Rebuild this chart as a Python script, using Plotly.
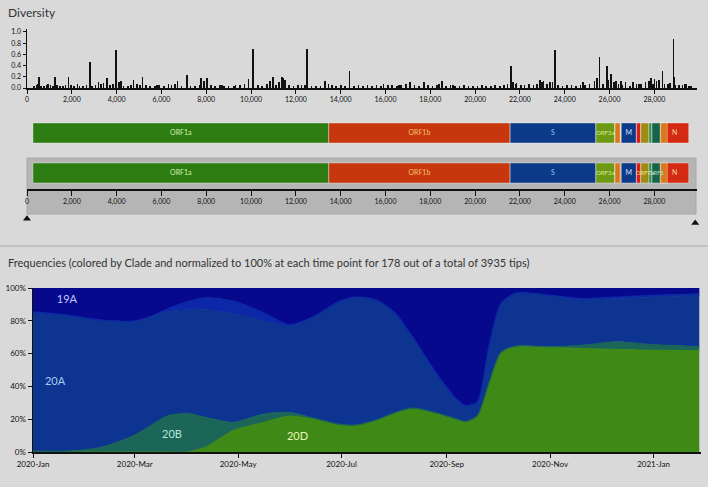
import plotly.graph_objects as go

W, H = 708, 487
def py(p):  # pixel y -> paper
    return 1 - p / H
def px(p):
    return p / W

# ---------------- data ----------------
GENOME_LEN = 29903
div_pos = [550, 952, 1250, 1845, 2250, 2810, 3185, 3560, 3973, 4200, 4750, 5160, 5800, 6310, 6720, 7130,
           7780, 8020, 8700, 9300, 9880, 10075, 10850, 10965, 11370, 11430, 12485, 13300, 14390,
           15910, 16600, 17100, 17720, 18400, 18530, 19000, 21590, 21800, 22900, 23000, 23350, 23560,
           24800, 25330, 25550, 25880, 26070, 26300, 26500, 26710, 27300, 27860, 28000, 28360, 28850,
           28900, 29420,
           300, 420, 480, 620, 750, 880, 1050, 1150, 1350, 1480, 1600, 1720, 1950, 2100, 2350, 2500,
           2650, 2900, 3050, 3300, 3420, 3700, 3850, 4100, 4300, 4500, 4650, 4900, 5050, 5300, 5500,
           5700, 5900, 6100, 6450, 6600, 6900, 7300, 7500, 7700, 7900, 8200, 8400, 8600, 8800, 9000,
           9250, 9500, 9700, 10300, 10500, 10700, 11100, 11250, 11500, 11700, 11900, 12100, 12250,
           12400, 12700, 12900, 13100, 13450, 13600, 13800, 14000, 14200, 14600, 14800, 15000, 15200,
           15400, 15600, 15800, 16100, 16300, 16500, 16700, 16900, 17300, 17500, 17900, 18100, 18300,
           18700, 18900, 19100, 19300, 19500, 19700, 19900, 20100, 20300, 20500, 20700, 20900, 21100,
           21300, 21450, 21700, 21850, 22050, 22200, 22400, 22600, 22750, 23050, 23200, 23450, 23700,
           23900, 24100, 24300, 24500, 24700, 24900, 25100, 25450, 25700, 25950, 26200, 26400, 26550,
           26900, 27050, 27200, 27400, 27600, 27750, 27950, 28100, 28200, 28450, 28600, 28700, 28950,
           29100, 29250, 29350, 29550, 29650]
div_val = [0.20, 0.08, 0.20, 0.20, 0.08, 0.46, 0.10, 0.17, 0.68, 0.12, 0.14, 0.20, 0.05, 0.08, 0.12, 0.24,
           0.17, 0.17, 0.05, 0.05, 0.16, 0.70, 0.12, 0.20, 0.20, 0.18, 0.70, 0.12, 0.30,
           0.08, 0.05, 0.10, 0.10, 0.08, 0.12, 0.05, 0.39, 0.08, 0.14, 0.10, 0.10, 0.68,
           0.10, 0.12, 0.55, 0.39, 0.25, 0.12, 0.12, 0.10, 0.08, 0.17, 0.16, 0.30, 0.88,
           0.20, 0.08,
           0.03, 0.05, 0.08, 0.04, 0.03, 0.05, 0.06, 0.04, 0.05, 0.03, 0.04, 0.06, 0.05, 0.03, 0.04, 0.03,
           0.05, 0.04, 0.06, 0.08, 0.09, 0.05, 0.08, 0.11, 0.04, 0.03, 0.05, 0.08, 0.06, 0.05, 0.04,
           0.03, 0.05, 0.04, 0.06, 0.07, 0.04, 0.03, 0.04, 0.06, 0.12, 0.05, 0.03, 0.05, 0.04, 0.03,
           0.04, 0.05, 0.08, 0.05, 0.04, 0.07, 0.06, 0.10, 0.15, 0.06, 0.03, 0.05, 0.06,
           0.05, 0.04, 0.03, 0.04, 0.08, 0.05, 0.04, 0.05, 0.04, 0.04, 0.05, 0.03, 0.05,
           0.04, 0.05, 0.04, 0.05, 0.06, 0.04, 0.05, 0.08, 0.06, 0.04, 0.05, 0.04, 0.06,
           0.03, 0.05, 0.04, 0.03, 0.05, 0.04, 0.03, 0.04, 0.05, 0.03, 0.04, 0.05, 0.04,
           0.05, 0.08, 0.10, 0.09, 0.06, 0.05, 0.07, 0.05, 0.08, 0.12, 0.08, 0.10, 0.05,
           0.04, 0.06, 0.05, 0.04, 0.05, 0.06, 0.08, 0.18, 0.07, 0.15, 0.10, 0.08, 0.06,
           0.04, 0.10, 0.08, 0.07, 0.10, 0.12, 0.08, 0.12, 0.14, 0.07, 0.08, 0.09, 0.06,
           0.05, 0.06, 0.07, 0.04, 0.03]
div_ticks = list(range(0, 28001, 2000))
div_yticks = [0, 0.2, 0.4, 0.6, 0.8, 1.0]

gene_names = ["ORF1a", "ORF1b", "S", "ORF3a", "E", "M", "ORF6", "ORF7a", "ORF7b", "ORF8", "N", "ORF9b"]
gene_start = [266, 13468, 21563, 25393, 26245, 26523, 27202, 27394, 27756, 27894, 28274, 28284]
gene_end = [13468, 21555, 25384, 26220, 26472, 27191, 27387, 27759, 27887, 28259, 29533, 28577]
gene_color = ["#2d7d12", "#c7360c", "#0d3a88", "#6c9a14", "#d8781a", "#0d3a88", "#d8201a",
              "#a08a14", "#2f9550", "#17644a", "#d42a14", "#d8781a"]
label_color = {"ORF1a": "#dcefb0", "ORF1b": "#f3c46c", "S": "#90c2ef", "ORF3a": "#dcea98",
               "M": "#d0e0ff", "N": "#f5d08c", "ORF7a": "#f0e090", "ORF8": "#a8e0c8"}
labels_row1 = ["ORF1a", "ORF1b", "S", "ORF3a", "M", "N"]
labels_row2 = ["ORF1a", "ORF1b", "S", "ORF3a", "M", "ORF7a", "ORF8", "N"]

freq_dates = ["2020-01-01", "2020-01-21", "2020-02-09", "2020-02-29", "2020-03-10", "2020-03-20",
              "2020-04-01", "2020-04-12", "2020-04-28", "2020-05-15", "2020-05-31", "2020-06-14",
              "2020-06-30", "2020-07-10", "2020-07-22", "2020-08-02", "2020-08-12", "2020-08-26",
              "2020-09-07", "2020-09-12", "2020-09-19", "2020-09-26", "2020-10-03", "2020-10-12",
              "2020-11-01", "2020-11-20", "2020-12-10", "2020-12-30", "2021-01-28"]
f_20D = [0, 0, 0, 0, 0, 0, 0, 3, 13, 17.7, 21.8, 20, 16.5, 16.3, 19.5, 24, 26.5, 23.6, 19.8, 18.4,
         21.8, 42, 60.5, 64.3, 63.6, 63, 62.5, 62, 61.8]
f_20B = [0.5, 0.5, 2.5, 9.7, 15.7, 21.8, 23.5, 18, 5, 5.1, 2.2, 0.8, 0.3, 0.2, 0.2, 0.2, 0.2, 0.2,
         0.2, 0.2, 0.2, 0.2, 0.2, 0.3, 0.6, 2, 4.7, 3.5, 2.5]
f_20A = [85, 83, 78.1, 70.1, 66.2, 63.5, 63.2, 65.7, 66.3, 57.4, 52.6, 61.5, 75.2, 78, 72.8, 60.1,
         43.3, 24.2, 12, 9.8, 8.5, 22.8, 29.8, 32.2, 30.8, 27.7, 26.1, 29, 31.2]
f_20C = [0, 0, 0, 0, 0.6, 1.7, 4.8, 7.3, 7.7, 5.1, 0.9, 0, 0, 0, 0, 0, 0, 0, 0, 0, 0, 0, 0, 0.2,
         0.5, 0.8, 1.2, 1, 1]
f_19A = [14.5, 16.5, 19.4, 20.2, 17.5, 13, 8.5, 6, 8, 14.7, 22.5, 17.7, 9, 5.5, 7.5, 15.7, 30, 52,
         68, 71.6, 69.5, 35, 9.5, 3, 4.5, 6.5, 5.5, 4.5, 3.5]
clade_series = [("20D", f_20D, "#3f8a16"), ("20B", f_20B, "#1b6658"), ("20A", f_20A, "#0e3491"),
                ("20C", f_20C, "#0c28a8"), ("19A", f_19A, "#06098c")]
clade_labels = ["19A", "20A", "20B", "20D"]
clade_label_x = ["2020-01-21", "2020-01-14", "2020-03-23", "2020-06-05"]
clade_label_y = [92.5, 42.5, 10.5, 9]
clade_label_color = ["#c8c8ff", "#a8cdf2", "#b8e6d8", "#e8f4b8"]
freq_yticks = [0, 20, 40, 60, 80, 100]
freq_ytext = ["0%", "20%", "40%", "60%", "80%", "100%"]

# ---------------- figure ----------------
FONT = "Lato"
fig = go.Figure()

# diversity bars
fig.add_trace(go.Bar(x=div_pos, y=div_val, width=75, marker=dict(color="#111111", line=dict(width=0)),
                     xaxis="x", yaxis="y", hoverinfo="skip"))

# gene rows
for rowy in (3, 1):
    fig.add_trace(go.Bar(y=[rowy] * len(gene_names), x=[e - s for s, e in zip(gene_start, gene_end)],
                         base=gene_start, orientation="h", width=1.0,
                         marker=dict(color=gene_color, line=dict(color="rgba(255,255,255,0.35)", width=1)),
                         xaxis="x", yaxis="y2", hoverinfo="skip"))
for rowy, labs in ((3, labels_row1), (1, labels_row2)):
    xs = [(gene_start[gene_names.index(g)] + gene_end[gene_names.index(g)]) / 2 for g in labs]
    sizes = [6 if g in ("ORF7a", "ORF8", "ORF3a") else 7 for g in labs]
    fig.add_trace(go.Scatter(x=xs, y=[rowy] * len(labs), mode="text", text=labs,
                             textfont=dict(family=FONT, size=sizes, color=[label_color[g] for g in labs]),
                             xaxis="x", yaxis="y2", hoverinfo="skip"))
# invisible trace so that the genome axis under the gene map is drawn
fig.add_trace(go.Scatter(x=[0, GENOME_LEN], y=[0, 0], mode="markers", marker=dict(opacity=0),
                         xaxis="x2", yaxis="y2", hoverinfo="skip"))
# range triangles
fig.add_trace(go.Scatter(x=[0, GENOME_LEN - 80], y=[-0.4, -0.75], mode="markers",
                         marker=dict(symbol="triangle-up", size=7, color="#111111"),
                         xaxis="x", yaxis="y4", hoverinfo="skip", cliponaxis=False))

# frequencies
for name, vals, col in clade_series:
    fig.add_trace(go.Scatter(x=freq_dates, y=vals, name=name, stackgroup="freq", mode="lines",
                             line=dict(width=1.2, color=col, shape="spline", smoothing=0.7), fillcolor=col,
                             xaxis="x3", yaxis="y3", hoverinfo="skip"))
fig.add_trace(go.Scatter(x=clade_label_x, y=clade_label_y, mode="text", text=clade_labels,
                         textfont=dict(family=FONT, size=11, color=clade_label_color),
                         xaxis="x3", yaxis="y3", hoverinfo="skip"))

tickfont = dict(family=FONT, size=7, color="#111111")
axis_common = dict(showgrid=False, zeroline=False, automargin=False)
fig.update_layout(
    width=W, height=H, margin=dict(l=0, r=0, t=0, b=0, autoexpand=False),
    paper_bgcolor="#d9d9d9", plot_bgcolor="rgba(0,0,0,0)",
    showlegend=False, barmode="overlay", bargap=0,
    xaxis=dict(domain=[px(27), px(697)], range=[0, GENOME_LEN], anchor="y",
               showline=True, linecolor="#111111", linewidth=2, ticks="outside", ticklen=4,
               tickcolor="#111111", tickvals=div_ticks, tickformat=",d", tickfont=tickfont, **axis_common),
    yaxis=dict(domain=[py(88), py(29)], range=[0, 1.05], anchor="x",
               showline=True, linecolor="#111111", linewidth=1.5, ticks="outside", ticklen=3,
               tickcolor="#111111", tickvals=div_yticks, tickformat=".1f",
               tickfont=tickfont, **axis_common),
    yaxis2=dict(domain=[py(193), py(113)], range=[0, 4], anchor="x", visible=False, fixedrange=True,
                **axis_common),
    yaxis4=dict(domain=[py(226), py(214)], range=[-1, 0], anchor="x", visible=False, **axis_common),
    xaxis2=dict(domain=[px(27), px(697)], range=[0, GENOME_LEN], anchor="free", position=py(190),
                side="bottom", showline=True, linecolor="#111111", linewidth=2,
                ticks="outside", ticklen=5, tickcolor="#111111", tickvals=div_ticks, tickformat=",d",
                tickfont=tickfont, **axis_common),
    xaxis3=dict(domain=[px(33), px(701)], range=["2020-01-01", "2021-01-29"], anchor="y3",
                showline=True, linecolor="#111111", linewidth=1.5,
                ticks="outside", ticklen=4, tickcolor="#111111", dtick="M2", tick0="2020-01-01",
                tickformat="%Y-%b", tickfont=dict(family=FONT, size=8, color="#111111"), **axis_common),
    yaxis3=dict(domain=[py(452), py(288)], range=[0, 100], anchor="x3",
                showline=True, linecolor="#111111", linewidth=1.5, ticks="outside", ticklen=4,
                tickcolor="#111111", tickvals=freq_yticks, ticktext=freq_ytext, tickmode="array",
                tickfont=dict(family=FONT, size=8, color="#111111"), **axis_common),
    shapes=[
        dict(type="rect", xref="paper", yref="paper", x0=px(27), x1=px(696), y0=py(214), y1=py(158),
             fillcolor="#b5b5b5", line=dict(color="#a8a8a8", width=1), layer="below"),
        dict(type="line", xref="paper", yref="paper", x0=0, x1=1, y0=py(246), y1=py(246),
             line=dict(color="#c2c2c2", width=2)),
    ],
    annotations=[
        dict(text="Diversity", xref="paper", yref="paper", x=px(6), y=py(12), xanchor="left",
             yanchor="middle", showarrow=False, font=dict(family=FONT, size=12, color="#333333")),
        dict(text="Frequencies (colored by Clade and normalized to 100% at each time point for 178 out of a total of 3935 tips)",
             xref="paper", yref="paper", x=px(6), y=py(262), xanchor="left", yanchor="middle",
             showarrow=False, font=dict(family=FONT, size=11, color="#333333")),
    ],
)

fig.write_html("out.html", config={"displayModeBar": False, "staticPlot": True},
               post_script="document.body.style.margin='0';document.body.style.overflow='hidden';")
